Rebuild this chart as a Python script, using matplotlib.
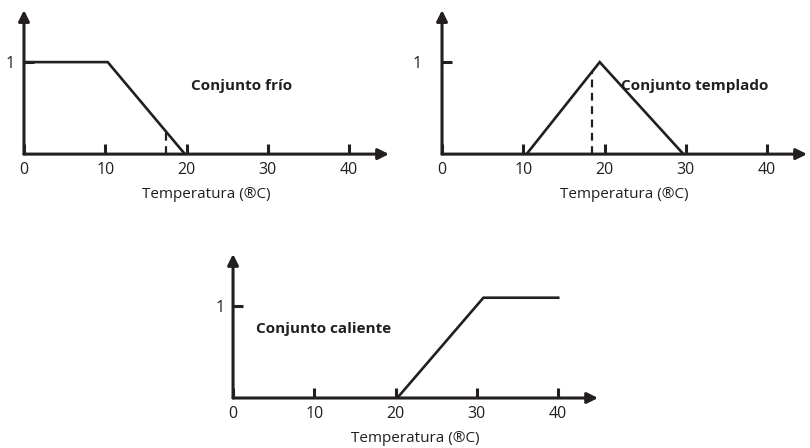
import matplotlib
matplotlib.use('Agg')
import matplotlib.pyplot as plt

plt.rcParams['font.family'] = ['Open Sans', 'DejaVu Sans']

# datos
ticks_x = [0, 10, 20, 30, 40]
frio_x = [0, 10.3, 19.8]
frio_y = [1, 1, 0]
frio_corte = [17.5, 0.25]
templado_x = [10.4, 19.4, 29.7]
templado_y = [0, 1, 0]
templado_corte = [18.4, 0.89]
caliente_x = [20.2, 30.8, 40]
caliente_y = [0, 1.09, 1.09]

C = '#231f20'
xlabel = 'Temperatura (®C)'

fig = plt.figure(figsize=(8.1, 4.48), dpi=100)

def panel(rect, ypad):
    ax = fig.add_axes(rect)
    ax.set_xlim(0, 44.9)
    ax.set_ylim(0, 1.565)
    for s in ['top', 'right', 'left', 'bottom']:
        ax.spines[s].set_visible(False)
    # ejes con flecha
    ax.annotate('', xy=(1, 0), xytext=(0, 0), xycoords='axes fraction',
                arrowprops=dict(arrowstyle='-|>', lw=2.2, color=C, shrinkA=0, shrinkB=0, mutation_scale=16))
    ax.annotate('', xy=(0, 1), xytext=(0, 0), xycoords='axes fraction',
                arrowprops=dict(arrowstyle='-|>', lw=2.2, color=C, shrinkA=0, shrinkB=0, mutation_scale=16))
    ax.set_xticks(ticks_x)
    ax.set_yticks([1])
    ax.tick_params(axis='x', direction='in', length=7, width=2.2, color=C, pad=5.5, labelsize=11.5, labelcolor=C)
    ax.tick_params(axis='y', direction='in', length=7, width=2.2, color=C, pad=ypad, labelsize=11.5, labelcolor=C)
    ax.set_xlabel(xlabel, fontsize=11, color=C, labelpad=7)
    return ax

# Conjunto frio
ax1 = panel([0.0296, 0.656, 0.4506, 0.3214], 6.5)
ax1.plot(frio_x, frio_y, color=C, lw=1.9, solid_joinstyle='miter')
ax1.plot([frio_corte[0], frio_corte[0]], [0, frio_corte[1]], color=C, lw=1.6, ls=(0, (3.5, 2.5)))
ax1.text(26.8, 0.74, 'Conjunto frío', fontsize=11, fontweight='bold', color=C, ha='center', va='center')

# Conjunto templado
ax2 = panel([0.5457, 0.656, 0.4506, 0.3214], 15)
ax2.plot(templado_x, templado_y, color=C, lw=1.9, solid_joinstyle='miter')
ax2.plot([templado_corte[0], templado_corte[0]], [0, templado_corte[1]], color=C, lw=1.6, ls=(0, (3.5, 2.5)))
ax2.text(31.1, 0.74, 'Conjunto templado', fontsize=11, fontweight='bold', color=C, ha='center', va='center')

# Conjunto caliente
ax3 = panel([0.2877, 0.1116, 0.4506, 0.3214], 6)
ax3.plot(caliente_x, caliente_y, color=C, lw=1.9, solid_joinstyle='miter')
ax3.text(11.1, 0.75, 'Conjunto caliente', fontsize=11, fontweight='bold', color=C, ha='center', va='center')

fig.savefig('out.png', dpi=100)
